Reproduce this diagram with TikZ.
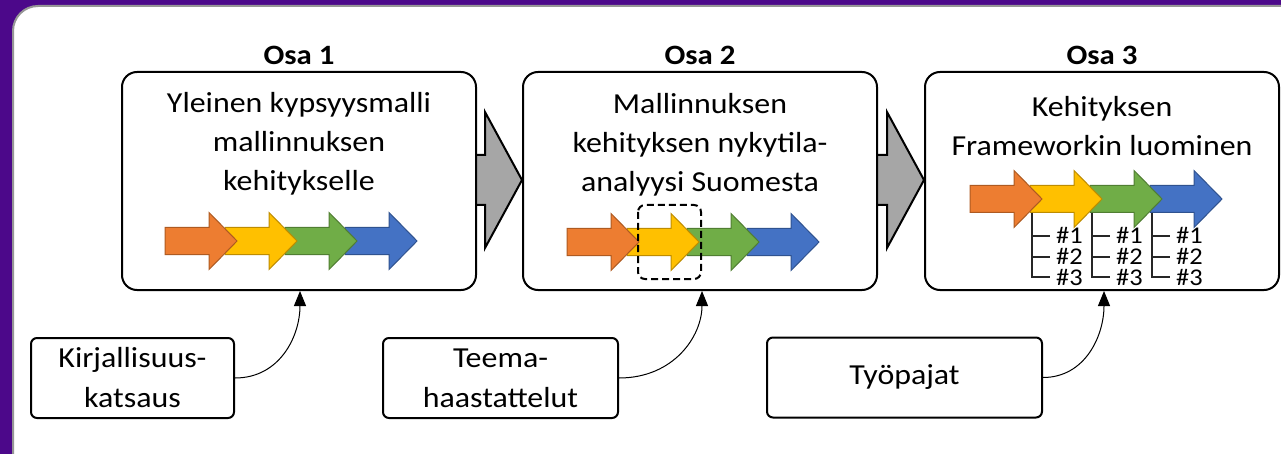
\documentclass[tikz,border=0pt]{standalone}
\usepackage{fontspec}
\setmainfont{Carlito}[FakeStretch=1.1]
\usetikzlibrary{arrows.meta}
\definecolor{purp}{RGB}{76,8,138}
\definecolor{panelgray}{RGB}{150,150,150}
\definecolor{garrow}{RGB}{166,166,166}
\definecolor{corange}{RGB}{237,125,49}
\definecolor{dorange}{RGB}{174,90,33}
\definecolor{cyellow}{RGB}{255,192,0}
\definecolor{dyellow}{RGB}{190,140,0}
\definecolor{cgreen}{RGB}{112,173,71}
\definecolor{dgreen}{RGB}{80,126,50}
\definecolor{cblue}{RGB}{68,114,196}
\definecolor{dblue}{RGB}{47,82,143}
\tikzset{
  mainbox/.style={draw=black, line width=2pt, fill=white, rounded corners=15pt,
    minimum width=354pt, minimum height=218pt, inner sep=0pt},
  smallbox/.style={draw=black, line width=2pt, fill=white, rounded corners=6pt,
    minimum height=80pt, inner sep=0pt, align=center,
    font=\fontsize{29}{40}\selectfont},
  titletext/.style={font=\fontsize{28}{34}\selectfont\bfseries, inner sep=0pt},
  boxtext/.style={font=\fontsize{29}{39}\selectfont, align=center, inner sep=0pt},
  grayarrow/.style={draw=black, line width=2pt, fill=garrow, line join=miter},
  conn/.style={draw=black, line width=1pt, -{Triangle[length=15pt,width=12pt]}},
  treeline/.style={draw=black!85, line width=1.2pt},
  numlabel/.style={font=\fontsize{24}{24}\selectfont, inner sep=0pt, anchor=west,
    text height=15pt, text depth=1pt},
  dashbox/.style={draw=black, line width=2pt, dash pattern=on 7pt off 4pt, rounded corners=7pt}
}
\newcommand{\colarrow}[4]{%
  \draw[fill=#3, draw=#4, line width=1pt, line join=miter]
    (#1,{#2-13.5}) -- ({#1+44},{#2-13.5}) -- ({#1+44},{#2-28.5}) -- ({#1+72},#2)
    -- ({#1+44},{#2+28.5}) -- ({#1+44},{#2+13.5}) -- (#1,{#2+13.5}) -- cycle;}
\newcommand{\arrowrow}[2]{%
  \colarrow{#1+180}{#2}{cblue}{dblue}%
  \colarrow{#1+120}{#2}{cgreen}{dgreen}%
  \colarrow{#1+60}{#2}{cyellow}{dyellow}%
  \colarrow{#1}{#2}{corange}{dorange}}
\begin{document}
\begin{tikzpicture}[x=1pt,y=-1pt]
\useasboundingbox (0,0) rectangle (1281,454);
\fill[purp] (0,0) rectangle (1281,454);
\begin{scope}
  \clip (0,0) rectangle (1281,454);
  \draw[panelgray, line width=2pt, fill=white, rounded corners=25pt] (13,6) rectangle (1330,490);
\end{scope}

% gray arrows between the stages
\draw[grayarrow] (440,155) -- (485,155) -- (485,112) -- (522,180) -- (485,248) -- (485,205) -- (440,205) -- cycle;
\draw[grayarrow] (840,155) -- (887,155) -- (887,112) -- (924,180) -- (887,248) -- (887,205) -- (840,205) -- cycle;

% main boxes
\node[mainbox] (b1) at (299,181) {};
\node[mainbox] (b2) at (700,181) {};
\node[mainbox] (b3) at (1102,181) {};

% titles
\node[titletext] (o1) at (299,55) {Osa 1};
\node[titletext] (o2) at (700,55) {Osa 2};
\node[titletext] (o3) at (1102,55) {Osa 3};

% box texts
\node[boxtext] (t1) at (299,144) {Yleinen kypsyysmalli\\mallinnuksen\\kehitykselle};
\node[boxtext] (t2) at (700,145) {Mallinnuksen\\kehityksen nykytila-\\analyysi Suomesta};
\node[boxtext] (t3) at (1102,126) {Kehityksen\\Frameworkin luominen};

% coloured arrow rows
\arrowrow{165}{241}
\arrowrow{567}{242}
\arrowrow{970}{199}

% dashed highlight
\draw[dashbox] (638,205) rectangle (701,279);

% trees under the arrows in Osa 3
\foreach \i in {0,1,2}{
  \pgfmathsetmacro{\tx}{1032+60*\i}
  \draw[treeline] (\tx,213) -- (\tx,277) -- ({\tx+18},277);
  \draw[treeline] (\tx,236) -- ({\tx+18},236);
  \draw[treeline] (\tx,257) -- ({\tx+18},257);
  \node[numlabel] (n1\i) at ({\tx+24},236.5) {\#1};
  \node[numlabel] (n2\i) at ({\tx+24},257.5) {\#2};
  \node[numlabel] (n3\i) at ({\tx+24},278) {\#3};
}

% bottom boxes
\node[smallbox, minimum width=203pt] (k) at (132.5,378) {Kirjallisuus-\\katsaus};
\node[smallbox, minimum width=235pt] (h) at (500.5,378) {Teema-\\haastattelut};
\node[smallbox, minimum width=275pt] (w) at (904.5,377.5) {Työpajat};

% connectors
\coordinate (p1) at (300,291);
\coordinate (p2) at (702,291);
\coordinate (p3) at (1104,291);
\draw[conn] (k.east) .. controls +(45,0) and +(0,45) .. (p1);
\draw[conn] (h.east) .. controls +(55,0) and +(0,45) .. (p2);
\draw[conn] (w.east) .. controls +(42,0) and +(0,45) .. (p3);
\end{tikzpicture}
\end{document}
